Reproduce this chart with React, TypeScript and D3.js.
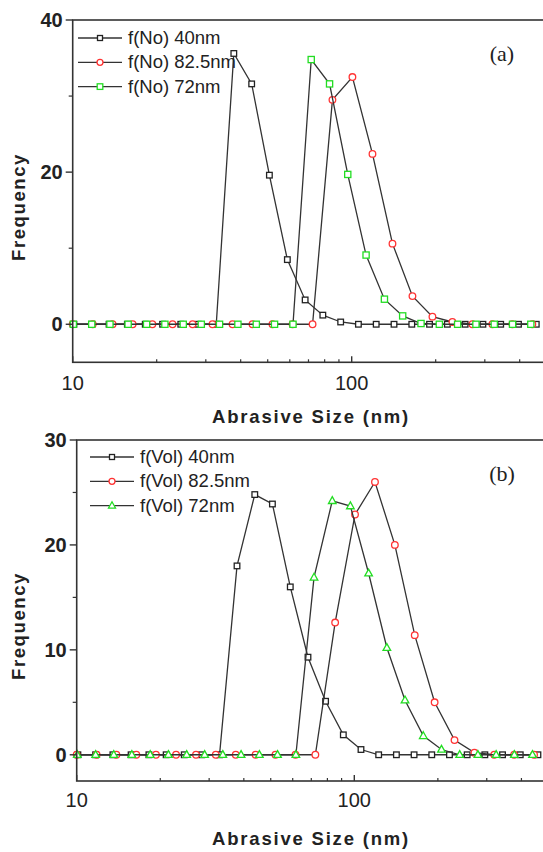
import React from "react";
import * as d3 from "d3";

// particle size bins (nm) of each measurement
const size40 = [10.1, 11.7, 13.5, 15.7, 18.2, 21.0, 24.4, 28.2, 32.7, 37.8, 43.8, 50.7, 58.8, 68.1, 78.8, 91.3, 105.7, 122.4, 141.8, 164.2, 190.1, 220.2, 255.0, 295.3, 342.0, 396.1, 458.7];
const size825 = [10.0, 11.8, 13.9, 16.4, 19.3, 22.8, 26.9, 31.7, 37.4, 44.1, 52.0, 61.4, 72.4, 85.3, 100.6, 118.7, 140.0, 165.1, 194.7, 229.6, 270.8, 319.3, 376.6, 444.1];
const size72 = [10.05, 11.7, 13.6, 15.8, 18.4, 21.4, 24.9, 28.9, 33.6, 39.1, 45.5, 52.9, 61.6, 71.6, 83.3, 96.8, 112.6, 131.0, 152.3, 177.2, 206.1, 239.7, 278.8, 324.3, 377.1, 438.5];

// (a) number frequency
const freqNo40 = [0, 0, 0, 0, 0, 0, 0, 0, 0, 35.6, 31.6, 19.6, 8.5, 3.2, 1.2, 0.3, 0, 0, 0, 0, 0, 0, 0, 0, 0, 0, 0];
const freqNo825 = [0, 0, 0, 0, 0, 0, 0, 0, 0, 0, 0, 0, 0, 29.5, 32.5, 22.4, 10.6, 3.7, 1.0, 0.3, 0, 0, 0, 0];
const freqNo72 = [0, 0, 0, 0, 0, 0, 0, 0, 0, 0, 0, 0, 0, 34.8, 31.6, 19.7, 9.1, 3.3, 1.1, 0.1, 0, 0, 0, 0, 0, 0];

// (b) volume frequency
const freqVol40 = [0, 0, 0, 0, 0, 0, 0, 0, 0, 18.0, 24.8, 23.9, 16.0, 9.3, 5.1, 1.9, 0.5, 0, 0, 0, 0, 0, 0, 0, 0, 0, 0];
const freqVol825 = [0, 0, 0, 0, 0, 0, 0, 0, 0, 0, 0, 0, 0, 12.6, 22.9, 26.0, 20.0, 11.4, 5.0, 1.4, 0.2, 0, 0, 0];
const freqVol72 = [0, 0, 0, 0, 0, 0, 0, 0, 0, 0, 0, 0, 0, 16.9, 24.2, 23.7, 17.3, 10.2, 5.2, 1.8, 0.5, 0, 0, 0, 0, 0];

const xMajor = [10, 100];
const xMinor = [20, 30, 40, 50, 60, 70, 80, 90, 200, 300, 400, 500];

const SANS = "Arial, 'Liberation Sans', sans-serif";
const BLACK = "#222";
const RED = "#ff3333";
const GREEN = "#22dd22";

type Shape = "square" | "circle" | "triangle";
type Series = { label: string; sizes: number[]; values: number[]; color: string; shape: Shape; r: number };

function Marker({ x, y, shape, color, r }: { x: number; y: number; shape: Shape; color: string; r: number }) {
  const common = { fill: "white", stroke: color, strokeWidth: 1.3 };
  if (shape === "circle") return <circle cx={x} cy={y} r={r} {...common} />;
  if (shape === "triangle")
    return <path d={`M${x},${y - r * 1.1}L${x + r},${y + r * 0.7}L${x - r},${y + r * 0.7}Z`} {...common} />;
  return <rect x={x - r} y={y - r} width={r * 2} height={r * 2} {...common} />;
}

type PanelProps = {
  top: number;
  bottom: number;
  left: number;
  decade: number;
  yDomain: [number, number];
  yMajor: number[];
  yMinor: number[];
  series: Series[];
  tag: string;
  legendX: number;
  legendY: number;
  titleY: number;
  freqY: number;
  xLabelY: number;
};

function Panel(p: PanelProps) {
  const x = d3.scaleLog().domain([10, 500]).range([p.left, p.left + p.decade * Math.log10(50)]);
  const y = d3.scaleLinear().domain(p.yDomain).range([p.bottom, p.top]);
  const line = d3
    .line<[number, number]>()
    .x((d) => x(d[0]))
    .y((d) => y(d[1]));
  const right = x(500);

  return (
    <g>
      {p.series.map((s) => (
        <g key={s.label}>
          <path
            d={line(s.sizes.map((v, i) => [v, s.values[i]] as [number, number])) || ""}
            fill="none"
            stroke="#333"
            strokeWidth={1.3}
          />
          {s.sizes.map((v, i) => (
            <Marker key={i} x={x(v)} y={y(s.values[i])} shape={s.shape} color={s.color} r={s.r} />
          ))}
        </g>
      ))}

      <rect x={p.left} y={p.top} width={right - p.left} height={p.bottom - p.top} fill="none" stroke="#333" strokeWidth={1.6} />

      {xMajor.map((t) => (
        <g key={t}>
          <line x1={x(t)} x2={x(t)} y1={p.bottom} y2={p.bottom - 6} stroke="#333" strokeWidth={1.4} />
          <text x={x(t)} y={p.xLabelY} textAnchor="middle" fontFamily={SANS} fontSize={20} fill="#222">
            {t}
          </text>
        </g>
      ))}
      {xMinor.map((t) => (
        <line key={t} x1={x(t)} x2={x(t)} y1={p.bottom} y2={p.bottom - 3} stroke="#333" strokeWidth={1.2} />
      ))}

      {p.yMajor.map((t) => (
        <g key={t}>
          <line x1={p.left - 7} x2={p.left} y1={y(t)} y2={y(t)} stroke="#333" strokeWidth={1.4} />
          <text
            x={p.left - 10}
            y={y(t)}
            dy="0.36em"
            textAnchor="end"
            fontFamily={SANS}
            fontWeight="bold"
            fontSize={20}
            fill="#222"
          >
            {t}
          </text>
        </g>
      ))}
      {p.yMinor.map((t) => (
        <line key={t} x1={p.left - 4} x2={p.left} y1={y(t)} y2={y(t)} stroke="#333" strokeWidth={1.2} />
      ))}

      <text
        x={311}
        y={p.titleY}
        textAnchor="middle"
        fontFamily={SANS}
        fontWeight="bold"
        fontSize={18.5}
        letterSpacing={1.8}
        fill="#222"
      >
        Abrasive Size (nm)
      </text>
      <text
        transform={`translate(25,${p.freqY}) rotate(-90)`}
        textAnchor="middle"
        fontFamily={SANS}
        fontWeight="bold"
        fontSize={18.5}
        letterSpacing={1.6}
        fill="#222"
      >
        Frequency
      </text>

      {p.series.map((s, i) => {
        const ly = p.legendY + i * 24.3;
        return (
          <g key={s.label}>
            <line x1={p.legendX} x2={p.legendX + 44} y1={ly - 6} y2={ly - 6} stroke="#333" strokeWidth={1.3} />
            <Marker x={p.legendX + 22} y={ly - 6} shape={s.shape} color={s.color} r={s.r - 0.3} />
            <text x={p.legendX + 50} y={ly} fontFamily={SANS} fontSize={18.5} fill="#222">
              {s.label}
            </text>
          </g>
        );
      })}

      <text x={502} y={p.top + 41} textAnchor="middle" fontFamily="'Liberation Serif', 'Times New Roman', serif" fontSize={22} fill="#222">
        {p.tag}
      </text>
    </g>
  );
}

export default function App() {
  const seriesA: Series[] = [
    { label: "f(No) 40nm", sizes: size40, values: freqNo40, color: BLACK, shape: "square", r: 2.8 },
    { label: "f(No) 82.5nm", sizes: size825, values: freqNo825, color: RED, shape: "circle", r: 3.3 },
    { label: "f(No) 72nm", sizes: size72, values: freqNo72, color: GREEN, shape: "square", r: 3.1 },
  ];
  const seriesB: Series[] = [
    { label: "f(Vol) 40nm", sizes: size40, values: freqVol40, color: BLACK, shape: "square", r: 2.8 },
    { label: "f(Vol) 82.5nm", sizes: size825, values: freqVol825, color: RED, shape: "circle", r: 3.3 },
    { label: "f(Vol) 72nm", sizes: size72, values: freqVol72, color: GREEN, shape: "triangle", r: 3.8 },
  ];

  return (
    <svg
      width={543}
      height={852}
      style={{ position: "absolute", left: 0, top: 0, background: "white" }}
    >
      <rect width={543} height={852} fill="white" />
      <Panel
        top={20}
        bottom={362.3}
        left={72.7}
        decade={279}
        yDomain={[-5, 40]}
        yMajor={[0, 20, 40]}
        yMinor={[10, 30]}
        series={seriesA}
        tag="(a)"
        legendX={78}
        legendY={44}
        titleY={423}
        freqY={207}
        xLabelY={390}
      />
      <Panel
        top={440}
        bottom={781}
        left={76.7}
        decade={277.6}
        yDomain={[-2.5, 30]}
        yMajor={[0, 10, 20, 30]}
        yMinor={[5, 15, 25]}
        series={seriesB}
        tag="(b)"
        legendX={90}
        legendY={463}
        titleY={845}
        freqY={626}
        xLabelY={807}
      />
    </svg>
  );
}
